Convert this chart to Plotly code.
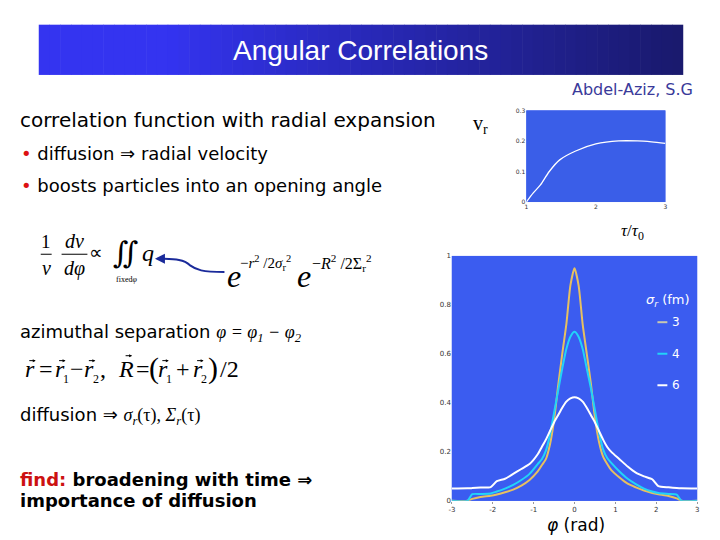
import plotly.graph_objects as go

W, H = 720, 540

# ---------------- data ----------------
phi = [-3.0, -2.62, -2.5, -2.3, -2.05, -1.9, -1.7, -1.5, -1.3, -1.1, -0.9, -0.8, -0.7,
       -0.6, -0.5, -0.4, -0.3, -0.2, -0.1, 0.0, 0.1, 0.2, 0.3, 0.4, 0.5, 0.6, 0.7,
       0.8, 0.9, 1.1, 1.3, 1.5, 1.7, 1.9, 2.05, 2.3, 2.5, 2.62, 3.0]

corr_sigma3 = [0.0, 0.0, 0.008, 0.016, 0.021, 0.026, 0.035, 0.046, 0.062, 0.085, 0.12, 0.145, 0.17,
               0.23, 0.33, 0.47, 0.6, 0.72, 0.88, 0.95, 0.88, 0.72, 0.6, 0.48, 0.34, 0.24, 0.18,
               0.15, 0.125, 0.095, 0.07, 0.055, 0.042, 0.032, 0.027, 0.02, 0.01, 0.0, 0.0]

corr_sigma4 = [0.0, 0.0, 0.027, 0.028, 0.03, 0.038, 0.05, 0.065, 0.085, 0.11, 0.15, 0.17, 0.205,
               0.27, 0.36, 0.45, 0.54, 0.62, 0.67, 0.69, 0.67, 0.62, 0.54, 0.46, 0.37, 0.28, 0.21,
               0.175, 0.155, 0.12, 0.09, 0.068, 0.05, 0.038, 0.032, 0.028, 0.025, 0.0, 0.0]

corr_sigma6 = [0.05, 0.051, 0.052, 0.054, 0.056, 0.08, 0.09, 0.11, 0.13, 0.15, 0.19, 0.22, 0.25,
               0.285, 0.32, 0.35, 0.38, 0.405, 0.418, 0.423, 0.418, 0.405, 0.38, 0.35, 0.32, 0.285, 0.25,
               0.22, 0.2, 0.17, 0.14, 0.115, 0.1, 0.088, 0.06, 0.055, 0.052, 0.051, 0.05]

series_names = ["3", "4", "6"]
series_colors = ["#e6c060", "#22d3f8", "#ffffff"]

tau = [1.0, 1.1, 1.2, 1.33, 1.48, 1.71, 2.0, 2.33, 2.6, 2.8, 3.0]
vr = [0.0, 0.03, 0.055, 0.1, 0.138, 0.167, 0.19, 0.2, 0.2, 0.197, 0.192]

main_xticks = [-3, -2, -1, 0, 1, 2, 3]
main_xtick_text = ["-3", "-2", "-1", "0", "1", "2", "3"]
main_yticks = [0, 0.2, 0.4, 0.6, 0.8, 1]
main_ytick_text = ["0", "0.2", "0.4", "0.6", "0.8", "1"]
small_xticks = [1, 2, 3]
small_yticks = [0, 0.1, 0.2, 0.3]
small_ytick_text = ["0", "0.1", "0.2", "0.3"]

# ---------------- helpers (pixel -> paper) ----------------
def px(x):
    return x / W

def py(y):
    return 1 - y / H

PLOT_BG = "#3b5cf0"
SANS = "DejaVu Sans, Verdana, sans-serif"
SERIF = "Liberation Serif, Times New Roman, serif"

fig = go.Figure()

for vals, name, col in zip([corr_sigma3, corr_sigma4, corr_sigma6], series_names, series_colors):
    fig.add_trace(go.Scatter(x=phi, y=vals, mode="lines", name=name,
                             line=dict(color=col, width=2, shape="spline", smoothing=0.6),
                             xaxis="x", yaxis="y", showlegend=False, hoverinfo="skip"))

fig.add_trace(go.Scatter(x=tau, y=vr, mode="lines", name="v_r",
                         line=dict(color="#ffffff", width=1.3, shape="spline", smoothing=0.8),
                         xaxis="x2", yaxis="y2", showlegend=False, hoverinfo="skip"))

tickfont_main = dict(family="DejaVu Sans, sans-serif", size=7, color="#333333")
tickfont_small = dict(family="DejaVu Sans, sans-serif", size=6, color="#333333")

shapes = []
shapes.append(dict(type="rect", xref="paper", yref="paper",
                   x0=px(452), x1=px(699), y0=py(504.3), y1=py(255.7),
                   fillcolor=PLOT_BG, line=dict(width=0), layer="below"))
shapes.append(dict(type="rect", xref="paper", yref="paper",
                   x0=px(527), x1=px(667), y0=py(201), y1=py(108),
                   fillcolor="#3a5ee8", line=dict(width=0), layer="below"))

# Title banner gradient
x_left, x_right = 36, 685
n = 60
c0 = (52, 52, 240)
c1 = (26, 26, 110)
for i in range(n):
    t = i / (n - 1)
    tt = max(0.0, (t - 0.2) / 0.8) if t > 0.2 else 0.0
    tt = tt ** 0.9
    col = tuple(int(c0[k] + (c1[k] - c0[k]) * tt) for k in range(3))
    xa = x_left + (x_right - x_left) * i / n
    xb = x_left + (x_right - x_left) * (i + 1) / n + 0.6
    shapes.append(dict(type="rect", xref="paper", yref="paper",
                       x0=px(xa), x1=px(min(xb, x_right)), y0=py(72), y1=py(21),
                       fillcolor="rgb(%d,%d,%d)" % col, line=dict(width=0), layer="below"))

# fraction bars
shapes.append(dict(type="line", xref="paper", yref="paper", x0=px(38), x1=px(49), y0=py(254), y1=py(254),
                   line=dict(color="black", width=1)))
shapes.append(dict(type="line", xref="paper", yref="paper", x0=px(59), x1=px(85), y0=py(254), y1=py(254),
                   line=dict(color="black", width=1)))
# wavy arrow
shapes.append(dict(type="path", xref="paper", yref="paper",
                   path="M %f,%f C %f,%f %f,%f %f,%f C %f,%f %f,%f %f,%f" % (
                       px(223), py(272), px(200), py(272), px(195), py(270), px(188), py(265),
                       px(182), py(259), px(172), py(259), px(160), py(258.5)),
                   line=dict(color="#1a2a9a", width=2)))

# legend marks
legend_y = [323, 355, 387]
for yy, col in zip(legend_y, ["#c8c8b0", "#22d3f8", "#ffffff"]):
    shapes.append(dict(type="line", xref="paper", yref="paper", x0=px(659), x1=px(669),
                       y0=py(yy), y1=py(yy), line=dict(color=col, width=2)))

ann = []
def text(x, y, s, size=16, color="black", family=SANS, xanchor="left", yanchor="middle", **kw):
    ann.append(dict(x=px(x), y=py(y), xref="paper", yref="paper", text=s, showarrow=False,
                    xanchor=xanchor, yanchor=yanchor,
                    font=dict(size=size, color=color, family=family), **kw))

def vec_arrow(x_tip, y, length=8):
    ann.append(dict(x=px(x_tip), y=py(y), ax=-length, ay=0, xref="paper", yref="paper",
                    axref="pixel", ayref="pixel", showarrow=True, arrowhead=2, arrowsize=0.6,
                    arrowwidth=1, arrowcolor="black", text=""))

# Title
text(360, 47, "Angular Correlations", size=28, color="white",
     family="Liberation Sans Narrow, Liberation Sans, Arial, sans-serif", xanchor="center")
text(697, 87, "Abdel-Aziz, S.G", size=16, color="#3a3a9a", xanchor="right")

text(15, 118, "correlation function with radial expansion", size=20)
text(16, 152, "<span style='color:#dd1111'>•</span> diffusion ⇒ radial velocity", size=18)
text(16, 184, "<span style='color:#dd1111'>•</span> boosts particles into an opening angle", size=18)

# formula
text(43.5, 241, "1", size=19, family=SERIF, xanchor="center")
text(43.5, 268, "<i>ν</i>", size=20, family=SERIF, xanchor="center")
text(72, 241, "<i>dν</i>", size=20, family=SERIF, xanchor="center")
text(72, 268, "<i>dφ</i>", size=20, family=SERIF, xanchor="center")
text(94, 252, "∝", size=19, family=SERIF, xanchor="center")
text(124, 252, "∬", size=30, family="DejaVu Serif, serif", xanchor="center")
text(146, 253, "<i>q</i>", size=24, family=SERIF, xanchor="center")
text(124, 280, "fixed<i>φ</i>", size=8, family=SERIF, xanchor="center")
ann.append(dict(x=px(153), y=py(258.5), ax=10, ay=0, xref="paper", yref="paper",
                axref="pixel", ayref="pixel", showarrow=True, arrowhead=2, arrowsize=1,
                arrowwidth=2, arrowcolor="#1a2a9a", text=""))
text(233, 276, "<i>e</i>", size=32, family=SERIF, xanchor="center")
text(237, 263, "−<i>r</i><sup>2</sup> /2<i>σ</i><sub>r</sub><sup>2</sup>", size=15, family=SERIF)
text(303, 276, "<i>e</i>", size=32, family=SERIF, xanchor="center")
text(309, 263, "−<i>R</i><sup>2</sup> /2Σ<sub>r</sub><sup>2</sup>", size=16, family=SERIF)

text(15, 334, "azimuthal separation <span style='font-family:Liberation Serif'><i>φ = φ<sub>1</sub> − φ<sub>2</sub></i></span>", size=18)

# vector relation, glyph by glyph
vec_pieces = [
    (27, "<i>r</i>", True, None), (43, "=", False, None),
    (57, "<i>r</i>", True, "1"), (75, "−", False, None),
    (87, "<i>r</i>", True, "2"), (101, ",", False, None),
    (124, "<i>R</i>", True, None), (141, "=", False, None),
    (161, "<i>r</i>", True, "1"), (181, "+", False, None),
    (196, "<i>r</i>", True, "2"), (228, "/2", False, None),
]
for cx, s, arrow, sub in vec_pieces:
    text(cx, 370, s, size=24, family=SERIF, xanchor="center")
    if arrow:
        ay_ = 357 if "R" in s else 362
        vec_arrow(cx + 6, ay_)
    if sub:
        text(cx + 6.5, 381, sub, size=12, family=SERIF, xanchor="center")
text(152, 369, "(", size=30, family=SERIF, xanchor="center")
text(211, 369, ")", size=30, family=SERIF, xanchor="center")

text(15, 418, "diffusion ⇒ <span style='font-family:Liberation Serif'><i>σ<sub>r</sub></i>(τ), <i>Σ<sub>r</sub></i>(τ)</span>", size=18)
text(15, 483, "<b><span style='color:#cc1111'>find:</span> broadening with time ⇒</b>", size=18)
text(15, 504, "<b>importance of diffusion</b>", size=18)

# chart labels
text(481, 122, "v<sub>r</sub>", size=20, family=SERIF, xanchor="center")
text(634, 231, "<i>τ</i>/<i>τ</i><sub>0</sub>", size=17, family=SERIF, xanchor="center")
text(577, 529, "<i>φ</i> (rad)", size=17, xanchor="center")

# legend text
text(670, 301, "<i>σ<sub>r</sub></i> (fm)", size=13, color="white", xanchor="center")
for yy, name in zip(legend_y, series_names):
    text(672, yy, name, size=12, color="white")

fig.update_layout(
    width=W, height=H,
    margin=dict(l=0, r=0, t=0, b=0),
    paper_bgcolor="white",
    plot_bgcolor=PLOT_BG,
    showlegend=False,
    xaxis=dict(domain=[px(452), px(699)], range=[-3, 3], tickvals=main_xticks,
               ticktext=main_xtick_text,
               showgrid=False, zeroline=False, showline=False, ticks="outside", ticklen=2,
               tickcolor="#999999", tickfont=tickfont_main, anchor="y", fixedrange=True),
    yaxis=dict(domain=[py(504.3), py(255.7)], range=[0, 1], tickvals=main_yticks,
               ticktext=main_ytick_text, showgrid=False, zeroline=False, showline=False,
               ticks="", tickfont=tickfont_main, anchor="x", fixedrange=True),
    xaxis2=dict(domain=[px(527), px(667)], range=[1, 3], tickvals=small_xticks,
                showgrid=False, zeroline=False, showline=False, ticks="",
                tickfont=tickfont_small, anchor="y2", fixedrange=True),
    yaxis2=dict(domain=[py(201), py(108)], range=[0, 0.3], tickvals=small_yticks,
                ticktext=small_ytick_text, showgrid=False, zeroline=False, showline=False,
                ticks="", tickfont=tickfont_small, anchor="x2", fixedrange=True),
    shapes=shapes,
    annotations=ann,
)

fig.write_html("out.html", config={"displayModeBar": False},
               post_script="document.body.style.margin='0px';")
